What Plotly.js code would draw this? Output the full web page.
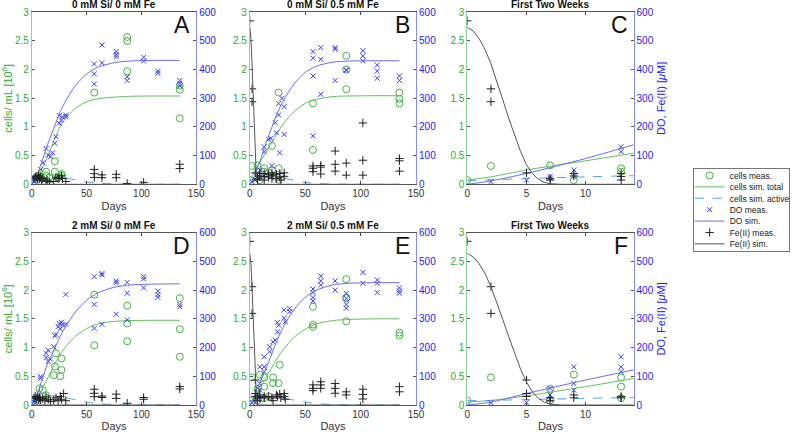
<!DOCTYPE html>
<html><head><meta charset="utf-8">
<script src="https://cdn.plot.ly/plotly-3.0.1.min.js"></script>
<style>html,body{margin:0;padding:0;background:#fff;}#chart{width:800px;height:434px;}</style>
</head><body><div id="chart"></div>
<script>
// ---------- simulation days ----------
const simDays = [0,2,5,10,14,20,25,30,40,50,60,75,90,110,135];
const feDays  = [0,0.5,1,1.5,2,2.5,3,3.5,4,4.5,5,5.5,6,6.5,7,8,14,30,60,135];

// ---------- Panel A: 0 mM Si / 0 mM Fe ----------
const cellsTotA = [0.05,0.08,0.14,0.30,0.47,0.75,0.97,1.13,1.33,1.44,1.49,1.52,1.535,1.54,1.54];
const cellsActA = [0.07,0.09,0.11,0.14,0.155,0.15,0.135,0.115,0.075,0.04,0.02,0.005,0.001,0,0];
const doSimA    = [0,10,35,88,135,195,245,285,345,385,408,424,430,432,432];
const feSimA    = [0,0,0,0,0,0,0,0,0,0,0,0,0,0,0];
const cellsA_d = [0,3,5,7,9,13,13,16,21,21,24,27,27,57,87,87,87,135,135,135];
const cellsA_v = [0.08,0.1,0.08,0.15,0.1,0.22,0.15,0.12,0.4,0.22,0.12,0.18,0.15,1.6,2.57,2.5,1.97,1.72,1.65,1.15];
const doA_d = [2,3,4,5,7,8,10,13,15,17,19,21,22,25,25,27,28,31,31,57,57,57,64,64,77,77,77,87,87,102,102,115,115,135,135,135];
const doA_v = [10,20,15,25,30,52,75,125,102,96,110,143,166,240,213,224,235,242,236,420,385,350,486,424,463,453,445,375,362,443,430,395,387,362,352,343];
const feA_d = [2,3,4,5,6,7,8,9,10,13,14,16,20,22,24,25,27,28,31,57,57,57,64,64,77,77,87,102,135,135];
const feA_v = [20,25,28,20,30,22,25,15,20,10,15,8,10,25,20,22,30,20,10,52,37,24,33,23,35,23,3,7,70,55];

// ---------- Panel B (and C): 0 mM Si / 0.5 mM Fe ----------
const cellsTotB = [0.075,0.13,0.25,0.41,0.54,0.73,0.90,1.05,1.27,1.41,1.48,1.53,1.54,1.545,1.545];
const cellsActB = [0.06,0.08,0.10,0.13,0.15,0.145,0.13,0.11,0.07,0.035,0.015,0.004,0.001,0,0];
const doSimB    = [0,12,38,90,137,200,250,290,350,390,412,426,430,431,431];
const feSimB    = [548,535,508,470,420,360,295,230,170,115,68,38,18,7,2,0,0,0,0,0];
const cellsB_d = [0,2,7,9,13,13,17,20,20,26,26,26,57,57,87,87,87,135,135,135];
const cellsB_v = [0.075,0.32,0.33,0.075,0.28,0.22,0.2,0.67,0.24,1.6,0.28,0.08,1.41,0.6,2.24,2.0,1.66,1.6,1.49,1.41];
const doB_d = [2,5,7,7,9,9,13,13,17,19,20,23,24,26,26,27,29,31,31,57,57,57,57,64,64,64,77,77,77,87,87,102,102,102,115,115,115,135,135];
const doB_v = [9,15,21,27,50,27,131,114,157,160,65,215,180,282,242,110,300,271,174,463,440,378,169,477,436,314,477,471,362,399,397,466,448,431,416,395,370,378,362];
const feB_d = [0,2,2,5,7,7,9,9,13,13,13,17,17,20,20,21,24,24,27,27,28,31,31,57,57,57,64,64,64,77,77,77,87,87,102,102,102,135,135,135];
const feB_v = [570,333,288,40,21,15,38,29,38,27,15,35,25,40,20,30,35,20,38,25,15,40,28,64,56,44,66,60,36,116,70,46,74,32,214,84,32,90,82,46];

// ---------- Panel D: 2 mM Si / 0 mM Fe ----------
const cellsTotD = [0.05,0.07,0.13,0.30,0.45,0.68,0.85,0.99,1.20,1.33,1.41,1.455,1.47,1.475,1.475];
const cellsActD = [0.06,0.08,0.11,0.14,0.16,0.16,0.15,0.13,0.09,0.05,0.025,0.007,0.002,0,0];
const doSimD    = [0,12,40,95,140,190,232,268,325,365,390,410,418,421,422];
const feSimD    = [0,0,0,0,0,0,0,0,0,0,0,0,0,0,0];
const cellsD_d = [0,2,5,7,10,13,14,20,21,22,27,27,26,57,57,87,87,87,135,135,135];
const cellsD_v = [0.06,0.1,0.08,0.29,0.26,0.17,0.12,0.52,0.67,0.9,0.81,0.61,0.5,1.92,1.04,1.73,1.42,1.11,1.86,1.32,0.84];
const doD_d = [2,3,5,7,8,8,13,13,15,15,17,20,21,22,24,25,26,27,28,31,31,57,57,57,64,64,64,77,77,77,87,87,87,102,102,102,115,115,115,135,135];
const doD_v = [10,15,22,35,99,93,180,165,191,151,160,203,241,246,273,284,265,288,279,385,281,447,350,267,458,453,281,432,426,316,427,389,296,447,439,408,397,385,375,350,342];
const feD_d = [2,3,4,5,6,7,8,10,12,13,15,17,20,22,24,26,27,29,31,57,57,57,64,64,77,77,87,102,102,135,135];
const feD_v = [25,30,22,28,20,25,18,22,15,28,20,12,18,25,15,30,20,40,15,55,41,29,31,26,38,23,6,26,20,64,56];

// ---------- Panel E (and F): 2 mM Si / 0.5 mM Fe ----------
const cellsTotE = [0.05,0.08,0.16,0.32,0.46,0.66,0.82,0.96,1.18,1.32,1.41,1.47,1.49,1.50,1.50];
const cellsActE = [0.075,0.08,0.095,0.115,0.13,0.14,0.135,0.12,0.085,0.05,0.025,0.008,0.002,0,0];
const doSimE    = [0,10,40,87,122,180,228,270,333,375,400,418,424,426,426];
const feSimE    = [528,516,492,458,412,358,298,238,180,125,80,46,24,10,3,0,0,0,0,0];
const cellsE_d = [0,2,7,7,9,13,13,13,17,21,21,26,27,57,57,57,87,87,87,87,135,135];
const cellsE_v = [0.075,0.48,0.28,0.08,0.53,0.48,0.32,0.12,0.15,0.48,0.38,0.38,0.70,1.71,1.40,1.36,2.19,1.87,1.86,1.46,1.26,1.21];
const doE_d = [2,5,7,7,7,9,9,9,13,13,13,18,18,21,23,25,25,26,31,31,32,36,36,57,57,57,57,64,64,64,77,77,87,87,87,87,102,102,115,115,115,135,135,135];
const doE_v = [8,8,58,35,20,133,75,52,168,133,116,203,186,220,226,255,288,278,331,302,290,336,325,404,392,374,362,449,432,418,432,400,389,371,350,337,462,424,435,424,392,408,397,389];
const feE_d = [0,2,2,5,5,5,7,7,9,9,13,13,17,20,21,24,25,27,28,31,31,32,57,57,57,64,64,64,77,77,77,87,87,102,102,102,135,135];
const feE_v = [570,412,319,87,40,30,25,15,35,25,30,25,30,25,15,35,30,38,25,40,30,20,70,58,50,81,70,58,75,58,41,46,35,55,37,21,64,46];

// ---------- labels ----------
const panelTitles = ['0 mM Si/ 0 mM Fe','0 mM Si/ 0.5 mM Fe','First Two Weeks','2 mM Si/ 0 mM Fe','2 mM Si/ 0.5 mM Fe','First Two Weeks'];
const panelLetters = ['A','B','C','D','E','F'];
const seriesNames = ['cells meas.','cells sim. total','cells sim. active','DO meas.','DO sim.','Fe(II) meas.','Fe(II) sim.'];
const leftTicks = [0,0.5,1,1.5,2,2.5,3];
const rightTicks = [0,100,200,300,400,500,600];

// ---------- styling ----------
const FONT = 'Liberation Sans, Arial, sans-serif';
const cGreen = '#45b145', cGreenLine = '#5cc25c', cGreenTxt = '#34a834';
const cBlue = '#3a3aff', cBlueLine = '#6b6bf5', cBlueTxt = '#2020ff';
const cCyan = '#4aa3df', cFe = '#222222', cFeLine = '#555555';

const panels = [
  {cells:[cellsA_d,cellsA_v], tot:cellsTotA, act:cellsActA, dom:[doA_d,doA_v], dos:doSimA, fe:[feA_d,feA_v], fes:[simDays,feSimA], xr:[0,150]},
  {cells:[cellsB_d,cellsB_v], tot:cellsTotB, act:cellsActB, dom:[doB_d,doB_v], dos:doSimB, fe:[feB_d,feB_v], fes:[feDays,feSimB], xr:[0,150]},
  {cells:[cellsB_d,cellsB_v], tot:cellsTotB, act:cellsActB, dom:[doB_d,doB_v], dos:doSimB, fe:[feB_d,feB_v], fes:[feDays,feSimB], xr:[0,14.05]},
  {cells:[cellsD_d,cellsD_v], tot:cellsTotD, act:cellsActD, dom:[doD_d,doD_v], dos:doSimD, fe:[feD_d,feD_v], fes:[simDays,feSimD], xr:[0,150]},
  {cells:[cellsE_d,cellsE_v], tot:cellsTotE, act:cellsActE, dom:[doE_d,doE_v], dos:doSimE, fe:[feE_d,feE_v], fes:[feDays,feSimE], xr:[0,150]},
  {cells:[cellsE_d,cellsE_v], tot:cellsTotE, act:cellsActE, dom:[doE_d,doE_v], dos:doSimE, fe:[feE_d,feE_v], fes:[feDays,feSimE], xr:[0,14.05]}
];

const xDomains = [[0.0404,0.249],[0.317,0.528],[0.593,0.804]];
const yDomains = [[0.5753,0.9717],[0.0668,0.4638]];

const traces = [];
const layout = {
  width:800, height:434, autosize:false,
  margin:{l:0,r:0,t:0,b:0},
  paper_bgcolor:'#fff', plot_bgcolor:'#fff',
  font:{family:FONT, size:10, color:'#333'},
  showlegend:true,
  legend:{x:0.879, y:0.613, xanchor:'left', yanchor:'top', bgcolor:'#fff', bordercolor:'#777', borderwidth:1,
          font:{size:8.5, color:'#222'}, tracegroupgap:0, itemwidth:30, traceorder:'normal'},
  annotations:[]
};

panels.forEach((p, i) => {
  const n = i + 1;
  const row = i < 3 ? 0 : 1, col = i % 3;
  const xk = n === 1 ? 'x' : 'x' + n;
  const yl = 2*n - 1, yr = 2*n;
  const ylk = yl === 1 ? 'y' : 'y' + yl;
  const yrk = 'y' + yr;
  const show = (i === 0);
  const tickX = p.xr[1] > 20 ? [0,50,100,150] : [0,5,10];

  layout[n === 1 ? 'xaxis' : 'xaxis' + n] = {
    domain: xDomains[col], range: p.xr, anchor: ylk,
    tickvals: tickX, ticks:'inside', ticklen:3, tickcolor:'#444',
    showline:true, linecolor:'#555', linewidth:1, mirror:'ticks',
    showgrid:false, zeroline:false,
    tickfont:{size:10, color:'#333'},
    title:{text:'Days', font:{size:11, color:'#333'}, standoff:3}
  };
  const yLeft = {
    domain: yDomains[row], range:[0,3], anchor: xk, side:'left',
    tickvals:leftTicks, ticks:'inside', ticklen:3, tickcolor:'#555',
    showline:true, linecolor:'#8fd18f', linewidth:1,
    showgrid:false, zeroline:false,
    tickfont:{size:10, color:cGreenTxt}
  };
  if (col === 0) yLeft.title = {text:'cells/ mL [10<sup>6</sup>]', font:{size:11, color:cGreenTxt}, standoff:4};
  layout[yl === 1 ? 'yaxis' : 'yaxis' + yl] = yLeft;
  const yRight = {
    domain: yDomains[row], range:[0,600], anchor: xk, overlaying: ylk, side:'right',
    tickvals:rightTicks, ticks:'inside', ticklen:3, tickcolor:'#555',
    showline:true, linecolor:'#8a8aff', linewidth:1,
    showgrid:false, zeroline:false,
    tickfont:{size:10, color:cBlueTxt}
  };
  if (col === 2) yRight.title = {text:'DO, Fe(II) [<i>μ</i>M]', font:{size:11, color:cBlueTxt}, standoff:4};
  layout['yaxis' + yr] = yRight;

  traces.push({type:'scatter', mode:'markers', x:p.cells[0], y:p.cells[1], xaxis:xk, yaxis:ylk,
    name:seriesNames[0], showlegend:show,
    marker:{symbol:'circle-open', size:7, color:cGreen, line:{width:1, color:cGreen}}});
  traces.push({type:'scatter', mode:'lines', x:simDays, y:p.tot, xaxis:xk, yaxis:ylk,
    name:seriesNames[1], showlegend:show,
    line:{color:cGreenLine, width:1, shape:'spline', smoothing:0.8}});
  traces.push({type:'scatter', mode:'lines', x:simDays, y:p.act, xaxis:xk, yaxis:ylk,
    name:seriesNames[2], showlegend:show,
    line:{color:cCyan, width:1, dash:'dash', shape:'spline', smoothing:0.6}});
  traces.push({type:'scatter', mode:'markers', x:p.dom[0], y:p.dom[1], xaxis:xk, yaxis:yrk,
    name:seriesNames[3], showlegend:show,
    marker:{symbol:'x-thin-open', size:5, color:cBlue, line:{width:1, color:cBlue}}});
  traces.push({type:'scatter', mode:'lines', x:simDays, y:p.dos, xaxis:xk, yaxis:yrk,
    name:seriesNames[4], showlegend:show,
    line:{color:cBlueLine, width:1, shape:'spline', smoothing:0.8}});
  traces.push({type:'scatter', mode:'markers', x:p.fe[0], y:p.fe[1], xaxis:xk, yaxis:yrk,
    name:seriesNames[5], showlegend:show,
    marker:{symbol:'cross-thin-open', size:6, color:cFe, line:{width:1, color:cFe}}});
  traces.push({type:'scatter', mode:'lines', x:p.fes[0], y:p.fes[1], xaxis:xk, yaxis:yrk,
    name:seriesNames[6], showlegend:show,
    line:{color:cFeLine, width:1}});

  layout.annotations.push({xref:'paper', yref:'paper', x:(xDomains[col][0]+xDomains[col][1])/2, y:yDomains[row][1],
    xanchor:'center', yanchor:'bottom', yshift:0, showarrow:false, text:'<b>'+panelTitles[i]+'</b>',
    font:{size:10, color:'#111', family:FONT}});
  layout.annotations.push({xref:'paper', yref:'paper', x:xDomains[col][1], y:yDomains[row][1],
    xanchor:'right', yanchor:'top', xshift:-4, yshift:2, showarrow:false, text:panelLetters[i],
    font:{size:23, color:'#111', family:FONT}});
});

Plotly.newPlot('chart', traces, layout, {displayModeBar:false, staticPlot:true}).then(() => {
  // tighten legend row spacing to match the compact reference legend
  const leg = document.querySelector('g.legend');
  if (!leg) return;
  const items = leg.querySelectorAll('g.traces');
  const step = 11.4, first = 7.5, W = 96;
  items.forEach((g, k) => {
    const m = /translate\(([-\d.]+)[ ,]+([-\d.]+)\)/.exec(g.getAttribute('transform') || '');
    const tx = m ? parseFloat(m[1]) : 0;
    g.setAttribute('transform', 'translate(' + (tx - 4) + ',' + (first + k*step) + ')');
    const hit = g.querySelector('rect.legendtoggle');
    if (hit) hit.setAttribute('height', step);
  });
  const h = first*2 + step*(items.length - 1);
  const bg = leg.querySelector('rect.bg');
  if (bg) { bg.setAttribute('height', h); bg.setAttribute('width', W); }
  leg.querySelectorAll('clipPath rect').forEach(r => { r.setAttribute('height', h); r.setAttribute('width', W); });
  document.querySelectorAll('defs clipPath[id*="legend"] rect').forEach(r => { r.setAttribute('height', h); r.setAttribute('width', W); });
});
</script></body></html>
